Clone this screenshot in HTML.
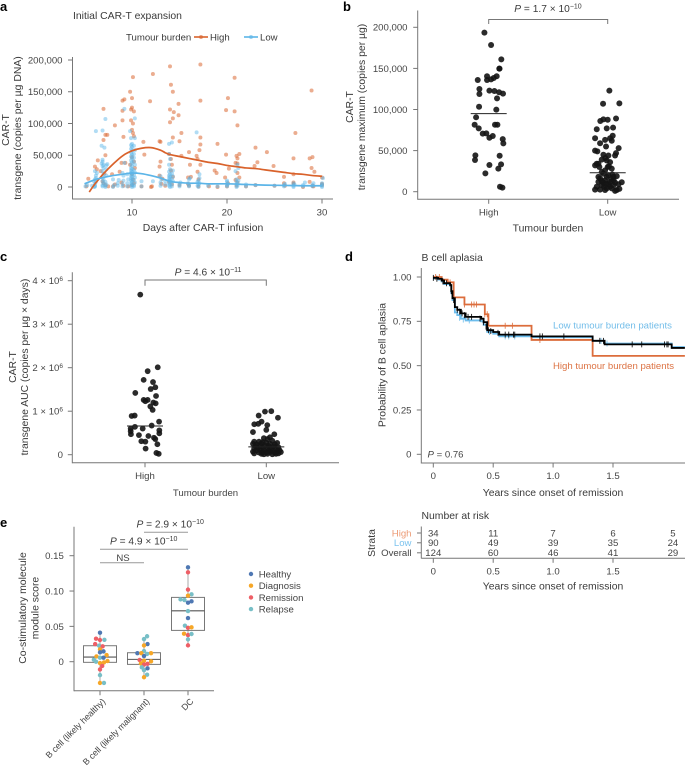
<!DOCTYPE html>
<html lang="en">
<head>
<meta charset="utf-8">
<title>CAR-T expansion figure</title>
<style>
html,body{margin:0;padding:0;background:#fff;width:685px;height:768px;overflow:hidden}
svg{display:block}
text{font-family:"Liberation Sans",sans-serif;fill:#3a3a3a}
.t{font-size:9.6px;fill:#444}
.l{font-size:10.4px}
.p{font-size:13px;font-weight:bold;fill:#000}
.pv{font-size:10.2px}
.r{font-size:8.8px;fill:#444}
</style>
</head>
<body>
<svg id="fig" width="685" height="768" viewBox="0 0 685 768" xmlns="http://www.w3.org/2000/svg">
  <text class="p" x="0" y="11">a</text>
  <text class="p" x="343" y="11">b</text>
  <text class="p" x="0" y="261">c</text>
  <text class="p" x="345" y="261">d</text>
  <text class="p" x="0" y="527">e</text>

  <text class="l" x="73" y="19">Initial CAR-T expansion</text>
  <text class="l" x="126" y="40.5" style="font-size:9.6px">Tumour burden</text>
  <text class="l" x="210" y="40.5" style="font-size:9.6px">High</text>
  <text class="l" x="260" y="40.5" style="font-size:9.6px">Low</text>
  <text class="l" text-anchor="middle" transform="translate(9,130) rotate(-90)">CAR-T</text>
  <text class="l" text-anchor="middle" transform="translate(21,128) rotate(-90)">transgene (copies per µg DNA)</text>
  <text class="l" x="203" y="231" text-anchor="middle">Days after CAR-T infusion</text>

  <text class="pv" x="548" y="12" text-anchor="middle"><tspan font-style="italic">P</tspan> = 1.7 × 10<tspan dy="-3.5" font-size="7">−10</tspan></text>
  <text class="l" text-anchor="middle" transform="translate(353,107) rotate(-90)">CAR-T</text>
  <text class="l" text-anchor="middle" transform="translate(365,107) rotate(-90)">transgene maximum (copies per µg)</text>
  <text class="l" x="548" y="231.5" text-anchor="middle">Tumour burden</text>

  <text class="pv" x="208" y="275.5" text-anchor="middle"><tspan font-style="italic">P</tspan> = 4.6 × 10<tspan dy="-3.5" font-size="7">−11</tspan></text>
  <text class="l" text-anchor="middle" transform="translate(16,367) rotate(-90)">CAR-T</text>
  <text class="l" text-anchor="middle" transform="translate(28,367) rotate(-90)">transgene AUC (copies per µg × days)</text>
  <text class="t" x="205.5" y="496" text-anchor="middle">Tumour burden</text>

  <text class="l" x="421.5" y="261">B cell aplasia</text>
  <text class="l" text-anchor="middle" transform="translate(385.5,365) rotate(-90)">Probability of B cell aplasia</text>
  <text class="l" x="553" y="496" text-anchor="middle">Years since onset of remission</text>
  <text class="t" x="427.5" y="457.5"><tspan font-style="italic">P</tspan> = 0.76</text>
  <text class="t" x="553" y="328.5" style="fill:#72bde9">Low tumour burden patients</text>
  <text class="t" x="553" y="369" style="fill:#dc7243">High tumour burden patients</text>

  <text class="l" x="421.5" y="519">Number at risk</text>
  <text class="l" text-anchor="middle" transform="translate(375,543) rotate(-90)">Strata</text>
  <text class="l" x="553" y="589.5" text-anchor="middle">Years since onset of remission</text>

  <text class="l" text-anchor="middle" transform="translate(26,608) rotate(-90)">Co-stimulatory molecule</text>
  <text class="l" text-anchor="middle" transform="translate(38.5,608) rotate(-90)">module score</text>
  <text class="pv" x="136.5" y="527.5"><tspan font-style="italic">P</tspan> = 2.9 × 10<tspan dy="-3.5" font-size="7">−10</tspan></text>
  <text class="pv" x="110" y="544.5"><tspan font-style="italic">P</tspan> = 4.9 × 10<tspan dy="-3.5" font-size="7">−10</tspan></text>
  <text class="t" x="123" y="561" text-anchor="middle">NS</text>
</svg>

<script>
/* ---------- panel a data (day, value in thousands) ---------- */
const aTicksX = [10, 20, 30];
const aTicksY = [0, 50, 100, 150, 200];
const aTickLabelsY = ['0', '50,000', '100,000', '150,000', '200,000'];
const aHighPoints = [[7,123],[9,136],[9.2,138],[9.8,150],[10,140],[10.1,173],[10,125],[9.9,122],[10.2,119],[9,120],[9,105],[9.9,105],[10.1,100],[8.2,97],[7.2,82],[7.4,82],[7,74],[9.1,79],[10,90],[10.1,85],[10.2,80],[11.2,71],[12.2,178],[11.9,135],[14,190],[14.1,161],[14.3,150],[14.9,131],[14,122],[14.4,118],[14.9,113],[14.3,108],[14,102],[14.3,78],[15,72],[15.2,85],[12.9,72],[13,71],[17.2,193],[17.2,136],[17.2,78],[17.2,67],[17.1,58],[16.8,49],[16.9,44],[17.2,35],[16,55],[16.1,35],[19,68],[19.9,51],[19.9,121],[20.1,140],[20.8,172],[20.8,119],[21.1,97],[21,49],[21.3,52],[21.1,45],[20.9,38],[21.1,37],[21.1,22],[23,62],[24.2,55],[23.2,39],[22.9,33],[24.9,33],[27.2,85],[27,45],[28.9,152],[29,47],[28.7,45],[28.9,30],[29.2,24],[26,16],[27,20],[28.7,8],[26,6],[27,7],[27,5],[30,15],[30,5],[29,2],[6.1,32],[6.3,28],[6.4,42],[5.4,13],[5.2,1],[6.7,25],[7.2,50],[7.1,21],[7.9,20],[8.7,24],[8.9,38],[9.3,38],[9.8,35],[10,47],[10.2,40],[10.3,30],[10,20],[10.1,12],[11.3,51],[12.9,32],[13,40],[13.9,52],[14.1,44],[14.2,35],[14.1,26],[14.3,16],[15.2,49],[15.9,15],[15.9,5],[16.2,16],[16.9,24],[17,12],[18.1,1],[18.7,26],[18.9,22],[19.8,15],[20.2,29],[20.1,6],[20.9,11],[21.1,7],[21.3,15],[6.9,9],[7,6],[7.2,3],[7.5,1],[8,1],[8.2,4],[8.9,7],[9.1,2],[9.6,1],[10,3],[10.2,6],[11,1],[12,0],[12.1,1],[12.9,18],[13.1,5],[13.2,13],[13.5,2],[13.9,8],[14.2,4],[15,3],[16,2],[17,1],[19,0],[20,1],[21,2],[22,1],[23,3],[25,2],[26.1,2],[28,0],[29.1,1],[30,3]];
const aLowPoints = [[5.1,1],[5.3,3],[5.8,2],[6,0],[6,9],[6.1,0.5],[6.1,2],[6.1,5],[6.2,8],[6.1,12],[6.2,14],[6.2,18],[6.3,22],[6.1,25],[6.2,88],[6.9,1],[6.9,3],[7,6],[6.9,9],[7,12],[6.9,15],[7,20],[6.9,25],[7,30],[6.9,33],[7,35],[6.8,37],[6.9,40],[6.9,43],[7.1,62],[6.8,65],[6.9,89],[7.2,0],[7.2,2],[7.3,4],[7.2,8],[7.3,18],[7.3,28],[7.3,34],[7.4,36],[7.2,107],[8,0],[8.1,3],[8,12],[8.5,2],[8.5,6],[8.6,11],[9,1],[9,5],[9.1,10],[9.1,18],[9,22],[9.2,38],[9.2,123],[9.5,1],[9.5,6],[9.6,12],[9.5,20],[10,0],[9.9,2],[10,4],[9.9,6],[10,8],[9.9,10],[10,12],[9.9,14],[10,16],[9.9,18],[10,20],[9.9,22],[10,24],[9.9,26],[10,28],[9.9,30],[10,33],[9.9,36],[10,39],[9.9,42],[10,45],[9.9,48],[10,51],[9.9,54],[10,57],[9.9,60],[10,63],[9.9,66],[10,68],[9.9,77],[9.8,88],[10.2,1],[10.2,3],[10.3,7],[10.2,11],[10.3,15],[10.2,19],[10.3,23],[10.2,27],[10.3,35],[10.2,40],[10.2,46],[10.2,52],[10.3,58],[10.2,65],[10.3,77],[10.3,108],[11,9],[11,1],[12.2,9],[13,2],[13,7],[13.1,12],[13,17],[13.5,4],[13.5,9],[14,0],[13.9,2],[14,4],[13.9,6],[14,8],[13.9,10],[14,12],[13.9,14],[14,16],[13.9,18],[14,20],[13.9,24],[14,28],[13.9,35],[14,44],[13.9,52],[13.9,68],[14.2,1],[14.2,5],[14.3,9],[14.2,13],[14.3,17],[14.2,21],[14.3,26],[14.2,70],[15,1],[15,4],[15.1,7],[16,1],[16,3],[15.9,6],[16,12],[16.1,14],[17,0],[16.9,2],[17,4],[17.1,6],[16.9,8],[17,10],[17.1,14],[17.1,20],[16.8,86],[18,2],[19,1],[20,1],[20,3],[20.1,5],[20,8],[20,10],[21,0],[21.1,2],[21,4],[21.1,6],[21,8],[21.2,10],[21,12],[20.9,25],[21.2,30],[21.1,35],[22,1],[22,4],[23,3],[25,2],[26,1],[26,3],[26.1,5],[27,0],[27,2],[27.1,4],[27,6],[28,1],[28,3],[28.2,7],[29,1],[29,3],[29.1,6],[30,0],[30,2],[30,4],[30,6],[30.1,14]];
const aHighCurve = [[5.5,-8],[6,3],[6.5,12],[7,21],[8,36],[9,49],[10,57],[11,61],[12,62],[13,58],[13.5,54],[14,51],[15,48],[16,45],[17,42],[18,39],[19,37],[20,34],[21,32],[22,30],[23,29],[24,27],[25,25],[26,23],[27,21],[28,20],[29,18],[30,17]];
const aLowCurve = [[5,5],[6,11],[7,15],[8,18],[9,20],[10,22],[11,21],[12,18],[13,14],[14,9],[15,7],[16,6],[17,6],[18,5],[20,5],[22,4],[24,3],[26,2.5],[28,2],[30,2]];

/* ---------- panel b data ([jitter, value in thousands]) ---------- */
const bCategories = ['High', 'Low'];
const bTicksY = [0, 50, 100, 150, 200];
const bTickLabelsY = ['0', '50,000', '100,000', '150,000', '200,000'];
const bMedians = [95, 23];
const bHigh = [[-.036,193.5],[.02,178.5],[.106,161],[.09,149.7],[.09,149.7],[-.014,140.4],[.067,140.4],[-.092,135.9],[-.014,135.9],[.02,136.7],[.042,138.3],[-.078,125],[.006,123],[.048,122.5],[.087,121],[.12,119.3],[-.078,118.9],[.07,113.6],[-.081,103.4],[.064,99.8],[-.106,90.5],[-.118,81.5],[.053,81.5],[.073,81.5],[-.084,77],[-.05,70.6],[-.02,71],[.006,65.7],[.034,67.7],[.118,64],[.123,58.8],[-.112,44.2],[-.115,38.5],[.092,43.8],[.006,32.5],[.104,33.3],[.081,28],[-.028,22.3],[.095,6],[.115,4.9]];
const bLow = [[.014,123],[-.039,107],[.098,107.5],[.07,89],[-.062,86],[-.036,88],[0,87.5],[-.092,76],[-.008,77],[.045,78],[.042,68],[-.106,65],[-.022,63],[.02,65],[-.064,59],[.034,62],[-.014,55],[.092,53],[-.106,50],[-.087,49],[.07,47],[.062,44],[-.036,45],[.006,44],[-.092,34],[-.106,32],[-.05,39],[-.008,38],[.02,36],[-.078,34],[.034,28],[-.022,26],[-.036,22],[.006,20],[.048,18],[.076,19],[-.064,16],[-.078,12],[-.022,14],[.02,12],[.062,11],[.118,11.5],[-.092,6],[-.106,2.5],[-.05,8],[-.008,4],[.02,6],[.076,2],[.098,3.5],[-.064,2.5],[-.022,2],[.034,4],[.062,1],[-.078,18],[-.008,18],[-.036,11],[.008,9],[.048,8],[-.05,24],[0,30],[-.02,41],[.01,31],[-.07,30],[.05,14],[-.03,6],[.09,9],[.04,21],[-.012,10],[-.05,13],[.03,15]];

/* ---------- panel c data ([jitter, value in millions]) ---------- */
const cCategories = ['High', 'Low'];
const cTicksY = [0, 1, 2, 3, 4];
const cMedians = [.66, .18];
const cHigh = [[-.039,3.68],[.105,2.01],[.022,1.92],[-.011,1.72],[.066,1.67],[.085,1.55],[.047,1.51],[-.08,1.42],[.091,1.35],[-.011,1.26],[.022,1.26],[.003,1.23],[.069,1.2],[.088,1.18],[.044,1.11],[.063,1.03],[-.085,.9],[-.11,.89],[.116,.76],[.055,.67],[-.083,.64],[-.118,.6],[-.019,.6],[.118,.56],[-.118,.54],[.118,.49],[-.116,.47],[-.05,.45],[.028,.43],[.074,.39],[.085,.36],[-.03,.31],[.003,.3],[.102,.24],[.005,.14],[.094,.04],[.113,.02]];
const cLow = [[-.011,.99],[.041,1],[-.063,.9],[.096,.85],[-.039,.76],[-.066,.71],[-.099,.7],[.008,.68],[0,.57],[-.11,.52],[.066,.47],[.03,.4],[-.02,.38],[.01,.36],[-.1,.3],[-.06,.3],[.05,.32],[-.03,.29],[.09,.27],[-.11,.25],[-.08,.24],[-.04,.26],[0,.27],[.03,.25],[.07,.24],[-.09,.2],[-.05,.19],[-.01,.21],[.02,.2],[.06,.19],[.1,.17],[-.1,.14],[-.07,.15],[-.03,.16],[.01,.15],[.04,.14],[.08,.13],[.11,.1],[-.11,.07],[-.08,.1],[-.05,.11],[-.02,.1],[.02,.1],[.05,.09],[.09,.08],[.12,.06],[-.1,.03],[-.06,.05],[-.03,.06],[0,.05],[.03,.06],[.07,.04],[.1,.03],[-.04,.02],[.01,.02],[.05,.01],[.08,.02],[-.02,.01]];

/* ---------- panel d data ([years, probability]) ---------- */
const dTicksX = [0, .5, 1, 1.5];
const dTickLabelsX = ['0', '0.5', '1.0', '1.5'];
const dTicksY = [0, .25, .5, .75, 1];
const dTickLabelsY = ['0', '0.25', '0.50', '0.75', '1.00'];
const kmHigh = [[0,1],[.07,.985],[.12,.97],[.15,.97],[.17,.885],[.26,.885],[.26,.845],[.43,.845],[.43,.79],[.46,.79],[.46,.725],[.82,.725],[.82,.645],[1.33,.645],[1.33,.555],[2.1,.555]];
const kmLow = [[0,.99],[.04,.985],[.07,.975],[.09,.96],[.14,.95],[.15,.91],[.16,.87],[.18,.80],[.2,.785],[.23,.765],[.27,.755],[.4,.75],[.42,.73],[.45,.69],[.5,.68],[.55,.665],[.82,.66],[1.33,.64],[1.43,.625],[1.99,.605],[2.1,.605]];
const kmOverall = [[0,.995],[.04,.99],[.07,.98],[.09,.965],[.14,.955],[.15,.92],[.16,.88],[.18,.83],[.2,.815],[.23,.795],[.27,.775],[.4,.765],[.42,.745],[.45,.70],[.5,.69],[.55,.675],[.82,.665],[1.33,.64],[1.43,.62],[1.99,.60],[2.1,.60]];
const censorHigh = [[.02,1],[.05,1],[.14,.97],[.26,.845],[.32,.845],[.34,.845],[.36,.845],[.43,.79],[.45,.79],[.6,.725],[.66,.725],[.89,.645]];
const censorLow = [[.22,.77],[.25,.76],[.3,.755],[.47,.69],[.6,.665],[.63,.665],[.68,.665],[1.4,.64],[1.45,.625]];
const censorOverall = [[0,.995],[.03,.99],[.08,.975],[.11,.965],[.15,.92],[.17,.87],[.2,.815],[.22,.805],[.24,.795],[.26,.785],[.29,.775],[.32,.775],[.39,.765],[.42,.745],[.44,.72],[.46,.70],[.48,.695],[.54,.685],[.6,.675],[.63,.675],[.67,.675],[.68,.675],[.89,.665],[.91,.665],[1.09,.665],[1.39,.64],[1.42,.64],[1.66,.62],[1.74,.62],[1.93,.62],[1.95,.62],[1.96,.62]];

/* ---------- risk table ---------- */
const riskLabels = ['High', 'Low', 'Overall'];
const riskTimes = [0, .5, 1, 1.5, 2];
const riskHigh = [34, 11, 7, 6, 5];
const riskLow = [90, 49, 39, 35, 24];
const riskOverall = [124, 60, 46, 41, 29];

/* ---------- panel e data ([jitter, score, group]) ---------- */
const eCategories = ['B cell (likely healthy)', 'B cell (likely malignant)', 'DC'];
const eTicksY = [0, .05, .10, .15];
const eTickLabelsY = ['0', '0.05', '0.10', '0.15'];
const eGroups = ['Healthy', 'Diagnosis', 'Remission', 'Relapse'];
const eQ1 = [-.0009, -.0038, .0443];
const eMedian = [.0066, .0033, .072];
const eQ3 = [.0226, .0127, .091];
const eWhiskerLow = [-.03, -.022, .023];
const eWhiskerHigh = [.041, .035, .133];
const ePointsCat1 = [[0,.041,0],[-.09,.0325,2],[0,.0307,2],[.1,.031,3],[-.11,.025,2],[-.02,.0226,3],[.06,.0217,2],[0,.0175,1],[0,.0132,0],[.08,.0146,0],[.15,.0094,1],[-.08,.0075,1],[0,.0057,3],[.08,.0057,0],[-.14,.0028,3],[-.09,0,3],[0,-.0019,1],[.09,-.001,1],[.17,.001,1],[.05,-.006,2],[0,-.011,2],[0,-.019,3],[0,-.03,1],[.09,-.03,3]];
const ePointsCat2 = [[.07,.036,3],[0,.032,3],[.08,.025,0],[0,.023,1],[-.15,.012,0],[0,.015,3],[-.06,.012,1],[.16,.012,1],[.07,.011,3],[0,.008,0],[-.1,.0024,2],[0,.0014,1],[.16,.0005,1],[-.07,-.0024,1],[.08,-.003,2],[0,-.004,2],[-.05,-.008,3],[0,-.012,3],[.08,-.0094,0],[.07,-.0184,3],[0,-.022,1]];
const ePointsCat3 = [[0,.1335,0],[0,.1265,2],[0,.102,2],[.08,.0953,3],[0,.0934,1],[-.17,.0882,3],[-.08,.0873,3],[.08,.0854,0],[0,.0835,0],[0,.0717,3],[0,.0618,0],[-.07,.051,3],[0,.048,2],[.08,.0486,1],[-.09,.0396,1],[0,.0377,2],[.08,.0392,3],[0,.0316,3],[0,.0231,2]];

/* ---------- helpers ---------- */
const svg = document.getElementById('fig');
const NS = 'http://www.w3.org/2000/svg';
function el(tag, name, attrs, parent) {
  const e = document.createElementNS(NS, tag);
  
  
  for (const k in attrs) e.setAttribute(k, attrs[k]);
  (parent || svg).appendChild(e);
  return e;
}
const axisColor = '#777';
function line(name, x1, y1, x2, y2, stroke, w) {
  return el('line', name, {x1, y1, x2, y2, stroke: stroke || axisColor, 'stroke-width': w || 1});
}
function text(name, x, y, s, anchor, cls, extra) {
  const t = el('text', name, Object.assign({x, y, 'text-anchor': anchor || 'middle', class: cls || 't'}, extra || {}));
  t.textContent = s;
  return t;
}
function linearScale(d0, d1, r0, r1) { return v => r0 + (v - d0) * (r1 - r0) / (d1 - d0); }
function axes(prefix, left, right, top, bottom) {
  line(prefix + '-y-axis', left, top, left, bottom + .5);
  line(prefix + '-x-axis', left, bottom, right, bottom);
}
function yTicks(prefix, ticks, labels, sy, left, labelX) {
  ticks.forEach((v, i) => {
    line(prefix + '-y-tick', left - 4.5, sy(v), left, sy(v));
    text(prefix + '-y-tick-label', labelX, sy(v) + 3.4, labels[i], 'end');
  });
}
function xTicks(prefix, ticks, labels, sx, bottom, labelY) {
  ticks.forEach((v, i) => {
    line(prefix + '-x-tick', sx(v), bottom, sx(v), bottom + 4.5);
    text(prefix + '-x-tick-label', sx(v), labelY, labels[i]);
  });
}
function curvePath(pts, sx, sy) {
  let d = '';
  pts.forEach((p, i) => {
    const x = sx(p[0]), y = sy(p[1]);
    if (i === 0) { d = 'M' + x + ' ' + y; return; }
    const p0 = pts[Math.max(0, i - 2)], p1 = pts[i - 1], p2 = p, p3 = pts[Math.min(pts.length - 1, i + 1)];
    const c1x = sx(p1[0]) + (sx(p2[0]) - sx(p0[0])) / 6, c1y = sy(p1[1]) + (sy(p2[1]) - sy(p0[1])) / 6;
    const c2x = sx(p2[0]) - (sx(p3[0]) - sx(p1[0])) / 6, c2y = sy(p2[1]) - (sy(p3[1]) - sy(p1[1])) / 6;
    d += 'C' + c1x + ' ' + c1y + ' ' + c2x + ' ' + c2y + ' ' + x + ' ' + y;
  });
  return d;
}
function stepPath(pts, sx, sy) {
  let d = 'M' + sx(pts[0][0]) + ' ' + sy(pts[0][1]);
  for (let i = 1; i < pts.length; i++) {
    d += 'H' + sx(pts[i][0]) + 'V' + sy(pts[i][1]);
  }
  return d;
}

const orange = '#d9622b', blue = '#5cb5e8';

/* ---------- panel a ---------- */
(function () {
  const sx = linearScale(10, 30, 132, 322);
  const sy = linearScale(0, 200, 187, 60);
  axes('a', 72.5, 333, 57, 199);
  yTicks('a', aTicksY, aTickLabelsY, sy, 72.5, 62.5);
  xTicks('a', aTicksX, aTicksX.map(String), sx, 199, 215.5);
  aHighPoints.forEach(p => {
    el('circle', 'a-point-high', {cx: sx(p[0]), cy: sy(p[1]), r: 2, fill: orange, opacity: .52});
  });
  aLowPoints.forEach(p => {
    el('circle', 'a-point-low', {cx: sx(p[0]), cy: sy(p[1]), r: 2, fill: blue, opacity: .48});
  });
  el('path', 'a-curve-high', {d: curvePath(aHighCurve, sx, sy), fill: 'none', stroke: orange, 'stroke-width': 1.7});
  el('path', 'a-curve-low', {d: curvePath(aLowCurve, sx, sy), fill: 'none', stroke: blue, 'stroke-width': 1.7});
  line('legend-high-line', 194, 37, 208, 37, orange, 1.6);
  el('circle', 'legend-high-dot', {cx: 201, cy: 37, r: 2, fill: orange, opacity: .6});
  line('legend-low-line', 244, 37, 258, 37, blue, 1.6);
  el('circle', 'legend-low-dot', {cx: 251, cy: 37, r: 2, fill: blue, opacity: .6});
})();

/* ---------- strip plots b, c ---------- */
function strip(prefix, cats, high, low, medians, sy, cx, unit, left, right, bottom, labelY, rH) {
  [high, low].forEach((pts, c) => {
    pts.forEach(p => {
      el('circle', prefix + '-point-' + cats[c].toLowerCase(), {cx: cx[c] + p[0] * unit, cy: sy(p[1]), r: rH, fill: '#141414', opacity: .9});
    });
    line(prefix + '-median-' + cats[c].toLowerCase(), cx[c] - 18, sy(medians[c]), cx[c] + 18, sy(medians[c]), '#222', 1);
    line(prefix + '-x-tick', cx[c], bottom, cx[c], bottom + 4.5);
    text(prefix + '-x-tick-label', cx[c], labelY, cats[c]);
  });
}
(function () {
  const sy = linearScale(0, 200, 191.7, 27.3);
  axes('b', 417.7, 679, 10.5, 199.3);
  yTicks('b', bTicksY, bTickLabelsY, sy, 417.7, 407.5);
  strip('b', bCategories, bHigh, bLow, bMedians, sy, [488.7, 607.7], 119, 417.7, 679, 199.3, 215.5, 3);
  el('path', 'b-significance-bracket', {d: 'M488.7 24V19.5H607.7V24', fill: 'none', stroke: '#777', 'stroke-width': 1});
})();
(function () {
  const sy = linearScale(0, 4, 454.7, 280.7);
  axes('c', 72.3, 339, 272.3, 462.7);
  cTicksY.forEach(v => {
    line('c-y-tick', 67.8, sy(v), 72.3, sy(v));
    const t = text('c-y-tick-label', 63, sy(v) + 3.4, v === 0 ? '0' : v + ' × 10', 'end');
    if (v !== 0) {
      const s = el('tspan', 'c-y-tick-exponent', {dy: -3, 'font-size': 6.5}, t);
      s.textContent = '6';
    }
  });
  strip('c', cCategories, cHigh, cLow, cMedians, sy, [145, 266.3], 121.3, 72.3, 339, 462.7, 479, 2.9);
  el('path', 'c-significance-bracket', {d: 'M145 285.7V280H266.3V285.7', fill: 'none', stroke: '#777', 'stroke-width': 1});
})();

/* ---------- panel d ---------- */
(function () {
  const sx = linearScale(0, 1.5, 433.3, 613);
  const sy = linearScale(0, 1, 454.3, 277);
  axes('d', 421.3, 685, 268, 463);
  yTicks('d', dTicksY, dTickLabelsY, sy, 421.3, 411.5);
  xTicks('d', dTicksX, dTickLabelsX, sx, 463, 479.2);
  const series = [['low', kmLow, censorLow, '#6dbdec'], ['high', kmHigh, censorHigh, '#dc6d3c'], ['overall', kmOverall, censorOverall, '#000']];
  series.forEach(s => {
    el('path', 'km-curve-' + s[0], {d: stepPath(s[1], sx, sy), fill: 'none', stroke: s[3], 'stroke-width': 1.8});
    s[2].forEach(c => {
      line('km-censor-' + s[0], sx(c[0]), sy(c[1]) - 3, sx(c[0]), sy(c[1]) + 3, s[3], .8);
    });
  });
  /* risk table */
  const rows = [riskHigh, riskLow, riskOverall];
  const rowY = [533, 542.8, 552.8];
  const rowColor = ['#ec9a74', '#7cc3ee', '#444'];
  line('risk-y-axis', 421.3, 526.5, 421.3, 558.5);
  line('risk-x-axis', 421.3, 558.3, 685, 558.3);
  rows.forEach((r, i) => {
    line('risk-row-tick', 417, rowY[i], 421.3, rowY[i]);
    const lab = text('risk-row-label', 411.5, rowY[i] + 3.3, riskLabels[i], 'end');
    lab.style.fill = rowColor[i];
    r.forEach((n, j) => {
      text('risk-count', sx(riskTimes[j]), rowY[i] + 3.3, String(n));
    });
  });
  xTicks('risk', dTicksX, dTickLabelsX, sx, 558.3, 574.5);
})();

/* ---------- panel e ---------- */
(function () {
  const cx = [100, 144, 188];
  const sy = linearScale(0, .15, 661.7, 555.7);
  const groupColor = ['#4f78b3', '#f6a728', '#ee5f66', '#78bfc7'];
  axes('e', 74, 214, 526.7, 690.7);
  yTicks('e', eTicksY, eTickLabelsY, sy, 74, 63.8);
  eCategories.forEach((c, i) => {
    line('e-x-tick', cx[i], 690.7, cx[i], 695.2);
    text('e-x-tick-label', cx[i] + 6, 702, c, 'end', 'r', {transform: 'rotate(-45 ' + (cx[i] + 6) + ' 702)'});
    line('e-whisker', cx[i], sy(eWhiskerLow[i]), cx[i], sy(eWhiskerHigh[i]), '#c9c9c9', 1.6);
    el('rect', 'e-box', {x: cx[i] - 16.5, y: sy(eQ3[i]), width: 33, height: sy(eQ1[i]) - sy(eQ3[i]), fill: '#fff', stroke: '#777', 'stroke-width': 1});
    line('e-box-median', cx[i] - 16.5, sy(eMedian[i]), cx[i] + 16.5, sy(eMedian[i]), '#555', 1.1);
  });
  [ePointsCat1, ePointsCat2, ePointsCat3].forEach((pts, i) => {
    pts.forEach(p => {
      el('circle', 'e-point-' + eGroups[p[2]].toLowerCase(), {cx: cx[i] + p[0] * 44, cy: sy(p[1]), r: 2.2, fill: groupColor[p[2]]});
    });
  });
  line('e-ns-bracket', 100, 562.7, 144, 562.7, '#999', 1);
  line('e-middle-bracket', 100, 549.3, 188, 549.3, '#999', 1);
  line('e-top-bracket', 144, 532.3, 188, 532.3, '#999', 1);
  eGroups.forEach((g, i) => {
    const y = 574 + i * 11.7;
    el('circle', 'e-legend-dot-' + g.toLowerCase(), {cx: 251, cy: y, r: 2.2, fill: groupColor[i]});
    text('e-legend-label-' + g.toLowerCase(), 258.7, y + 3.5, g, 'start');
  });
})();
</script>
</body>
</html>
